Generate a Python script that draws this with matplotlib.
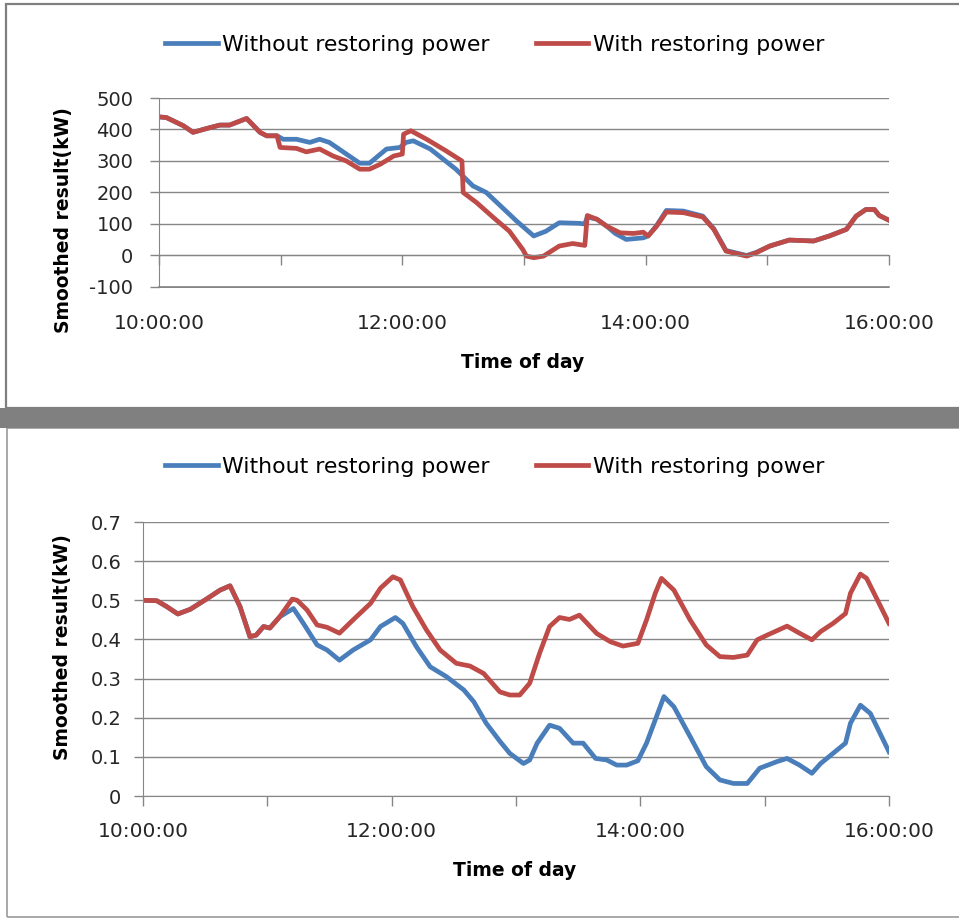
import matplotlib
matplotlib.use("Agg")
import matplotlib.pyplot as plt
from matplotlib.patches import Rectangle
from matplotlib.lines import Line2D

# ---- data (time in decimal hours) ----
top_red_t = [10.00, 10.06, 10.20, 10.28, 10.39, 10.50, 10.58, 10.72, 10.83, 10.885,
             10.97, 10.995, 11.13, 11.21, 11.32, 11.43, 11.54, 11.65, 11.73, 11.82,
             11.93, 12.00, 12.01, 12.07, 12.20, 12.36, 12.49, 12.50, 12.61, 12.75,
             12.88, 12.99, 13.02, 13.08, 13.16, 13.29, 13.40, 13.50, 13.52, 13.60,
             13.68, 13.79, 13.90, 13.98, 14.02, 14.09, 14.17, 14.31, 14.47, 14.56,
             14.66, 14.83, 14.91, 15.02, 15.18, 15.38, 15.51, 15.65, 15.73, 15.81,
             15.88, 15.92, 16.00]
top_red_v = [440, 438, 412, 391, 403, 414, 414, 435, 391, 380,
             380, 343, 340, 329, 338, 316, 300, 274, 274, 290,
             316, 322, 385, 396, 369, 332, 300, 200, 168, 120,
             77, 19, -2, -7, -2, 30, 38, 32, 127, 115,
             93, 72, 70, 74, 62, 93, 138, 136, 122, 83,
             14, -2, 9, 30, 49, 46, 62, 83, 125, 146,
             146, 127, 112]

top_blue_t = [10.00, 10.06, 10.20, 10.28, 10.39, 10.50, 10.58, 10.72, 10.83, 10.885,
              10.97, 11.02, 11.13, 11.24, 11.32, 11.40, 11.54, 11.65, 11.73, 11.87,
              11.98, 12.03, 12.09, 12.23, 12.44, 12.58, 12.69, 12.80, 12.94, 13.08,
              13.18, 13.29, 13.46, 13.50, 13.52, 13.60, 13.68, 13.75, 13.84, 13.98,
              14.02, 14.09, 14.17, 14.31, 14.47, 14.56, 14.66, 14.83, 14.91, 15.02,
              15.18, 15.38, 15.51, 15.65, 15.73, 15.81, 15.88, 15.92, 16.00]
top_blue_v = [440, 438, 412, 391, 403, 414, 414, 435, 391, 380,
              380, 369, 369, 359, 369, 359, 322, 293, 293, 338,
              343, 359, 364, 338, 274, 221, 200, 160, 109, 62,
              77, 104, 102, 100, 122, 115, 93, 70, 51, 56,
              62, 95, 143, 141, 125, 85, 16, 0, 10, 30,
              49, 46, 62, 83, 125, 146, 146, 127, 112]

bot_red_t = [10.00, 10.11, 10.19, 10.28, 10.38, 10.51, 10.62, 10.70, 10.78, 10.86,
             10.91, 10.97, 11.02, 11.10, 11.20, 11.24, 11.32, 11.40, 11.48, 11.58,
             11.69, 11.83, 11.91, 12.01, 12.07, 12.17, 12.28, 12.39, 12.52, 12.63,
             12.74, 12.87, 12.95, 13.03, 13.11, 13.19, 13.27, 13.35, 13.43, 13.51,
             13.65, 13.76, 13.86, 13.98, 14.05, 14.12, 14.17, 14.27, 14.40, 14.53,
             14.64, 14.75, 14.86, 14.94, 15.02, 15.18, 15.28, 15.38, 15.45, 15.55,
             15.65, 15.69, 15.77, 15.82, 15.90, 16.00]
bot_red_v = [0.500, 0.499, 0.484, 0.465, 0.477, 0.503, 0.526, 0.537, 0.484, 0.407,
             0.411, 0.433, 0.429, 0.458, 0.503, 0.500, 0.475, 0.437, 0.431, 0.416,
             0.450, 0.492, 0.531, 0.560, 0.552, 0.484, 0.424, 0.373, 0.339, 0.332,
             0.313, 0.266, 0.258, 0.258, 0.288, 0.365, 0.433, 0.456, 0.451, 0.462,
             0.415, 0.394, 0.383, 0.390, 0.450, 0.518, 0.556, 0.526, 0.450, 0.386,
             0.356, 0.354, 0.360, 0.399, 0.411, 0.434, 0.416, 0.399, 0.420, 0.441,
             0.466, 0.518, 0.567, 0.556, 0.505, 0.441]

bot_blue_t = [10.00, 10.11, 10.19, 10.28, 10.38, 10.51, 10.62, 10.70, 10.78, 10.86,
              10.91, 10.97, 11.02, 11.10, 11.21, 11.29, 11.40, 11.48, 11.58, 11.69,
              11.83, 11.91, 12.03, 12.09, 12.20, 12.31, 12.44, 12.58, 12.66, 12.76,
              12.87, 12.95, 13.06, 13.11, 13.17, 13.27, 13.35, 13.46, 13.54, 13.64,
              13.73, 13.81, 13.89, 13.98, 14.05, 14.11, 14.19, 14.27, 14.40, 14.53,
              14.64, 14.75, 14.86, 14.96, 15.10, 15.18, 15.28, 15.38, 15.45, 15.55,
              15.65, 15.69, 15.77, 15.85, 16.00]
bot_blue_v = [0.500, 0.499, 0.484, 0.465, 0.477, 0.503, 0.526, 0.537, 0.484, 0.407,
              0.411, 0.433, 0.429, 0.458, 0.479, 0.441, 0.386, 0.373, 0.347, 0.373,
              0.399, 0.433, 0.456, 0.441, 0.381, 0.330, 0.305, 0.271, 0.241, 0.186,
              0.140, 0.109, 0.083, 0.092, 0.135, 0.181, 0.173, 0.135, 0.135, 0.096,
              0.092, 0.079, 0.079, 0.090, 0.135, 0.186, 0.254, 0.228, 0.152, 0.075,
              0.041, 0.032, 0.032, 0.071, 0.088, 0.096, 0.079, 0.058, 0.083, 0.109,
              0.135, 0.186, 0.232, 0.211, 0.113]

series_names = ["Without restoring power", "With restoring power"]
x_ticks = [10, 11, 12, 13, 14, 15, 16]
x_labels = ["10:00:00", "12:00:00", "14:00:00", "16:00:00"]
top_yticks = [-100, 0, 100, 200, 300, 400, 500]
bot_yticks = [0, 0.1, 0.2, 0.3, 0.4, 0.5, 0.6, 0.7]

BLUE = "#4a7ebb"
RED = "#be4b48"
GRID = "#868686"
TXT = "#262626"

plt.rcParams["font.family"] = ["DejaVu Sans"]
plt.rcParams["axes.unicode_minus"] = False

W, H = 959, 918
fig = plt.figure(figsize=(W / 100, H / 100), dpi=100)


def axes_px(l, t, r, b):
    return fig.add_axes([l / W, 1 - b / H, (r - l) / W, (b - t) / H])


def rect_px(x0, y0, x1, y1, **kw):
    fig.patches.append(Rectangle((x0 / W, 1 - y1 / H), (x1 - x0) / W, (y1 - y0) / H,
                                 transform=fig.transFigure, figure=fig, **kw))


# panel frames and separator
rect_px(6, 4, 980, 408, fill=False, edgecolor="#7f7f7f", lw=1.6)
rect_px(7, 428, 980, 917, fill=False, edgecolor="#9a9a9a", lw=1.2)
rect_px(0, 408, W, 428, facecolor="#808080", edgecolor="none")


def style_axes(ax, yticks, ylim, ytick_pad):
    ax.set_xlim(10, 16)
    ax.set_ylim(*ylim)
    ax.set_yticks(yticks)
    ax.grid(axis="y", color=GRID, lw=1)
    for s in ["top", "right"]:
        ax.spines[s].set_visible(False)
    ax.spines["left"].set_color(GRID)
    ax.spines["bottom"].set_color(GRID)
    ax.tick_params(axis="y", direction="out", length=6.5, width=1, color=GRID,
                   labelsize=14, labelcolor=TXT, pad=ytick_pad)
    ax.set_xticks(x_ticks)
    ax.tick_params(axis="x", direction="out", length=7, width=1, color=GRID,
                   labelbottom=False)
    sec = ax.secondary_xaxis("bottom")
    sec.set_xticks([10, 12, 14, 16], x_labels)
    sec.tick_params(length=0, labelsize=14.5, labelcolor=TXT, pad=19)
    sec.spines["bottom"].set_visible(False)
    sec.patch.set_visible(False)
    return sec


def add_legend(ax, y_px):
    ax.legend(loc="center", bbox_to_anchor=((163 + 826) / 2 / W, 1 - y_px / H),
              bbox_transform=fig.transFigure, ncol=2, frameon=False, fontsize=15.8,
              handlelength=2.4, handletextpad=0.2, columnspacing=2.1)


# ---- top chart ----
ax1 = axes_px(159, 98, 889, 288)
style_axes(ax1, top_yticks, (-103.2, 500), 12)
ax1.spines["bottom"].set_position(("data", 0))
ax1.spines["left"].set_bounds(-100, 500)
ax1.plot(top_blue_t, top_blue_v, color=BLUE, lw=3.4, label=series_names[0])
ax1.plot(top_red_t, top_red_v, color=RED, lw=3.4, label=series_names[1])
ax1.set_ylabel("Smoothed result(kW)", fontsize=13.5, fontweight="bold")
ax1.yaxis.set_label_coords(-0.118, 0.36)
fig.text(523 / W, 1 - 363 / H, "Time of day", ha="center", va="center",
         fontsize=13.5, fontweight="bold")
add_legend(ax1, 45)
# the lowest gridline kept vanishing inside the axes; add it at figure level,
# still positioned through the axes' own data transform
fig.add_artist(Line2D(ax1.get_xlim(), [top_yticks[0]] * 2, transform=ax1.transData,
                      color=GRID, lw=1.2, zorder=5))

# ---- bottom chart ----
ax2 = axes_px(143, 522, 889, 796)
style_axes(ax2, bot_yticks, (0, 0.7), 9)
ax2.set_yticklabels(["0"] + [f"{v:.1f}" for v in bot_yticks[1:]])
ax2.plot(bot_blue_t, bot_blue_v, color=BLUE, lw=3.4, label=series_names[0])
ax2.plot(bot_red_t, bot_red_v, color=RED, lw=3.4, label=series_names[1])
ax2.set_ylabel("Smoothed result(kW)", fontsize=13.5, fontweight="bold")
ax2.yaxis.set_label_coords(-0.095, 0.545)
fig.text(515 / W, 1 - 870 / H, "Time of day", ha="center", va="center",
         fontsize=13.5, fontweight="bold")
add_legend(ax2, 467)

fig.savefig("out.png", dpi=100)
